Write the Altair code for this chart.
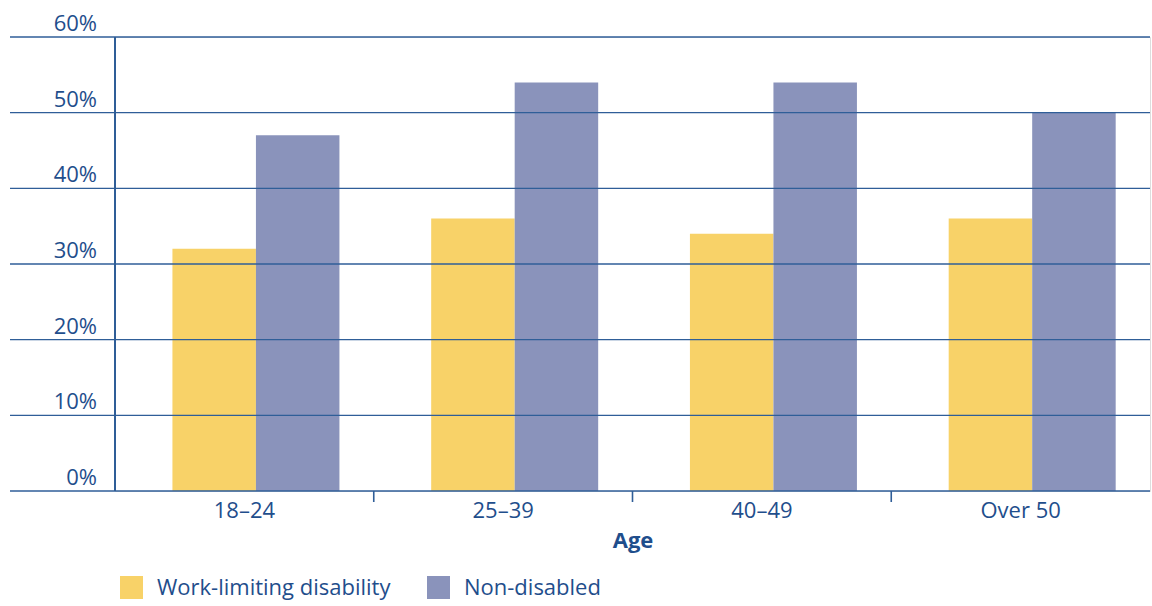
import altair as alt
import pandas as pd

# Share of each age group, by disability status (percent)
ages = ["18–24", "25–39", "40–49", "Over 50"]
work_limiting = [32, 36, 34, 36]
non_disabled = [47, 54, 54, 50]
series_names = ["Work-limiting disability", "Non-disabled"]
series_colors = ["#F8D268", "#8A93BB"]
y_ticks = [0, 10, 20, 30, 40, 50, 60]

NAVY = "#1F4E8C"
LINE = "#2F5E98"
FONT = "Open Sans"
FS = 22
W, H = 1035, 454

bars_df = pd.DataFrame(
    [{"age": a, "series": series_names[0], "value": v} for a, v in zip(ages, work_limiting)]
    + [{"age": a, "series": series_names[1], "value": v} for a, v in zip(ages, non_disabled)]
)
grid_df = pd.DataFrame({"v": y_ticks, "label": [f"{t}%" for t in y_ticks]})
tick_df = pd.DataFrame({"age": ages[1:]})

x_scale = alt.Scale(domain=ages, paddingInner=0, paddingOuter=0)
y_scale = alt.Scale(domain=[0, 60], nice=False, zero=True)

grid = alt.Chart(grid_df).mark_rule(color=LINE, strokeWidth=1.4).encode(
    x=alt.value(-105),
    x2=alt.value(W),
    y=alt.Y("v:Q", scale=y_scale, axis=None),
)

y_labels = alt.Chart(grid_df).mark_text(
    align="right", baseline="alphabetic", dy=-6,
    font=FONT, fontSize=FS, color=NAVY,
).encode(
    x=alt.value(-18),
    y=alt.Y("v:Q", scale=y_scale, axis=None),
    text="label:N",
)

# vertical axis line at the left edge of the plot
y_line = alt.Chart(grid_df).mark_rule(color=LINE, strokeWidth=1.4).encode(
    x=alt.value(0),
    y=alt.value(0),
    y2=alt.value(H),
)

bars = alt.Chart(bars_df).mark_bar(strokeWidth=0).encode(
    x=alt.X(
        "age:N", scale=x_scale, sort=ages,
        axis=alt.Axis(
            title="Age", domain=False, ticks=False, labelAngle=0,
            labelFont=FONT, labelFontSize=FS, labelColor=NAVY, labelPadding=9,
            titleFont=FONT, titleFontSize=FS, titleFontWeight="bold",
            titleColor=NAVY, titlePadding=9,
        ),
    ),
    xOffset=alt.XOffset(
        "series:N", sort=series_names,
        scale=alt.Scale(domain=series_names, paddingInner=0, paddingOuter=0.5494, align=0.626),
    ),
    y=alt.Y("value:Q", scale=y_scale, axis=None),
    color=alt.Color(
        "series:N", sort=series_names,
        scale=alt.Scale(domain=series_names, range=series_colors),
        legend=alt.Legend(
            title=None, orient="none", legendX=5, legendY=539,
            direction="horizontal", symbolType="square", symbolSize=529,
            symbolStrokeWidth=0, symbolOpacity=1, labelOffset=14,
            labelFont=FONT, labelFontSize=FS, labelColor=NAVY,
            columnPadding=36, labelLimit=400,
        ),
    ),
)

ticks = alt.Chart(tick_df).mark_rule(color=LINE, strokeWidth=1.6).encode(
    x=alt.X("age:N", scale=x_scale, bandPosition=0),
    y=alt.value(H),
    y2=alt.value(H + 11),
)

chart = (
    alt.layer(bars, grid, y_line, y_labels, ticks)
    .properties(
        width=W, height=H,
        autosize=alt.AutoSizeParams(type="none"),
        padding={"left": 115, "top": 37, "right": 2, "bottom": 115},
    )
    .configure_view(stroke=None)
    .configure(background="white")
)

chart.save("out.html", embed_options={"renderer": "svg", "actions": False})
